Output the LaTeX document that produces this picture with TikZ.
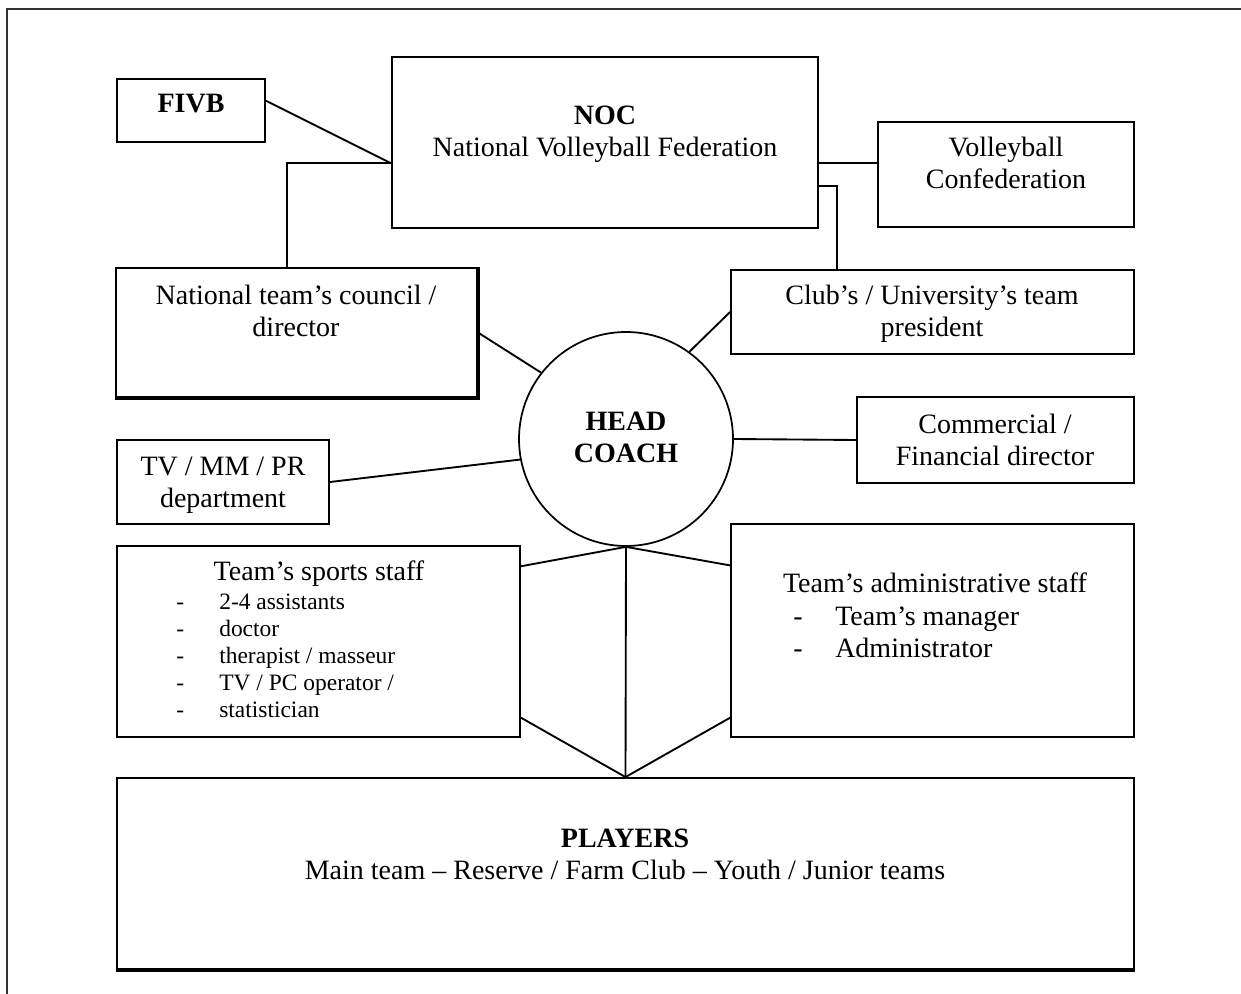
\documentclass[tikz,border=0pt]{standalone}
\usepackage{fontspec}
\setmainfont{Liberation Serif}
\usetikzlibrary{calc,fit}
\begin{document}
\begin{tikzpicture}[x=0.75pt,y=-0.75pt,
  box/.style={draw, line width=1.4pt, inner sep=0pt},
  hcircle/.style={draw, circle, line width=1.3pt, inner sep=0pt, minimum size=160.5pt},
  conn/.style={line width=1.4pt},
  frameline/.style={line width=1.6pt, black!80},
  heavy/.style={line width=2.6pt},
  lbl/.style={inner sep=0pt, align=center, font=\fontsize{21}{24}\selectfont, anchor=base},
  bigitem/.style={inner sep=0pt, anchor=base west, font=\fontsize{21}{24}\selectfont},
  smallitem/.style={inner sep=0pt, anchor=base west, font=\fontsize{17.6}{20}\selectfont}
]
\useasboundingbox (0,0) rectangle (1241,994);
% page frame (top and left)
\draw[frameline] (7,994) -- (7,9) -- (1241,9);

% boxes
\node[box, fit={(117,79) (265,142)}] (fivb) {};
\node[box, fit={(392,57) (818,228)}] (noc) {};
\node[box, fit={(878,122) (1134,227)}] (vc) {};
\node[box, fit={(116,268) (477,397)}] (council) {};
\node[box, fit={(731,270) (1134,354)}] (club) {};
\node[hcircle] (hc) at (626,439) {};
\node[box, fit={(117,440) (329,524)}] (tv) {};
\node[box, fit={(857,397) (1134,483)}] (com) {};
\node[box, fit={(117,546) (520,737)}] (sport) {};
\node[box, fit={(731,524) (1134,737)}] (admin) {};
\node[box, fit={(117,778) (1134,969)}] (pl) {};

% heavier edges
\draw[heavy] (council.north east) -- (council.south east) -- (council.south west);
\draw[heavy] (pl.south west) -- (pl.south east);

% texts (anchor=base is the baseline of the last line)
\node[lbl] (tfivb) at (191,113) {\textbf{FIVB}};
\node[lbl] (tnoc) at (605,157) {\textbf{NOC}\\National Volleyball Federation};
\node[lbl] (tvc) at (1006,189) {Volleyball\\Confederation};
\node[lbl] (tcouncil) at (296,337) {National team’s council /\\director};
\node[lbl] (tclub) at (932,337) {Club’s / University’s team\\president};
\node[lbl] (thc) at (626,462) {\textbf{HEAD}\\\textbf{COACH}};
\node[lbl] (ttv) at (223,507) {TV / MM / PR\\department};
\node[lbl] (tcom) at (995,465) {Commercial /\\Financial director};
\node[lbl] (tsport) at (319,580) {Team’s sports staff};
\foreach \yy/\txt [count=\i] in {609/{2-4 assistants}, 636/{doctor}, 663/{therapist / masseur}, 690/{TV / PC operator /}, 717/{statistician}}{
  \node[smallitem] (sd\i) at (176,\yy) {-};
  \node[smallitem] (si\i) at (219,\yy) {\txt};
}
\node[lbl] (tadmin) at (935,592) {Team’s administrative staff};
\node[bigitem] (ad1) at (793,625) {-};
\node[bigitem] (ai1) at (835,625) {Team’s manager};
\node[bigitem] (ad2) at (793,657) {-};
\node[bigitem] (ai2) at (835,657) {Administrator};
\node[lbl] (tpl) at (625,879) {\textbf{PLAYERS}\\Main team – Reserve / Farm Club – Youth / Junior teams};

% connection points
\coordinate (fivbr) at ($(fivb.north east)!0.35!(fivb.south east)$);
\coordinate (nocw) at ($(noc.north west)!0.62!(noc.south west)$);
\coordinate (noce1) at ($(noc.north east)!0.62!(noc.south east)$);
\coordinate (noce2) at ($(noc.north east)!0.754!(noc.south east)$);
\coordinate (counciltop) at ($(council.north west)!0.474!(council.north east)$);
\coordinate (clubtop) at ($(club.north west)!0.265!(club.north east)$);
\coordinate (sporte1) at ($(sport.north east)!0.11!(sport.south east)$);
\coordinate (sporte2) at ($(sport.north east)!0.895!(sport.south east)$);
\coordinate (adminw1) at ($(admin.north west)!0.197!(admin.south west)$);
\coordinate (adminw2) at ($(admin.north west)!0.906!(admin.south west)$);

% connectors
\draw[conn] (fivbr) -- (nocw);
\draw[conn] (nocw) -| (counciltop);
\draw[conn] (noce1) -- (vc.west |- noce1);
\draw[conn] (noce2) -| (clubtop);
\draw[conn] (council.east) -- (hc.142.5);
\draw[conn] (club.west) -- (hc.54.5);
\draw[conn] (tv.east) -- (hc.191.8);
\draw[conn] (hc.east) -- (com.west);
\draw[conn] (hc.south) -- (sporte1);
\draw[conn] (hc.south) -- (adminw1);
\draw[conn] (hc.south) -- (pl.north);
\draw[conn] (sporte2) -- (pl.north);
\draw[conn] (adminw2) -- (pl.north);
\end{tikzpicture}
\end{document}
